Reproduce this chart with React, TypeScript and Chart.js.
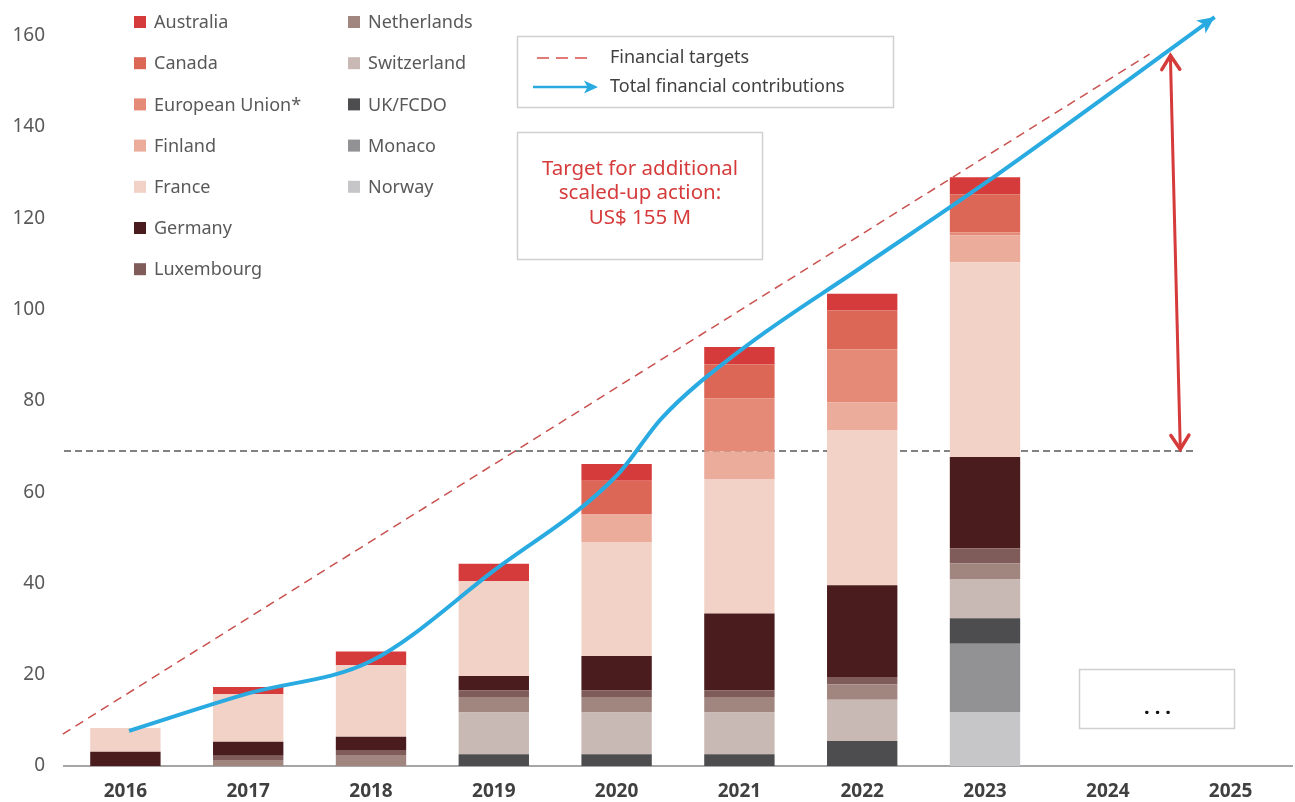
import React, { useEffect, useRef } from "react";
import { Chart, registerables } from "chart.js";

Chart.register(...registerables);

// ---------- DATA ----------
const years = ["2016", "2017", "2018", "2019", "2020", "2021", "2022", "2023", "2024", "2025"];

// stacking order: bottom -> top
const countries = [
  "Norway",
  "Monaco",
  "UK/FCDO",
  "Switzerland",
  "Netherlands",
  "Luxembourg",
  "Germany",
  "France",
  "Finland",
  "European Union*",
  "Canada",
  "Australia",
];

const norway = [0, 0, 0, 0, 0, 0, 0, 11.7, 0, 0];
const monaco = [0, 0, 0, 0, 0, 0, 0, 15.1, 0, 0];
const ukFcdo = [0, 0, 0, 2.6, 2.6, 2.6, 5.5, 5.6, 0, 0];
const switzerland = [0, 0, 0, 9.1, 9.1, 9.1, 9.0, 8.6, 0, 0];
const netherlands = [0, 1.3, 2.4, 3.4, 3.4, 3.4, 3.4, 3.4, 0, 0];
const luxembourg = [0, 0.95, 1.1, 1.5, 1.5, 1.5, 1.6, 3.3, 0, 0];
const germany = [3.1, 3.05, 2.9, 3.1, 7.5, 16.8, 20.1, 20.0, 0, 0];
const france = [5.2, 10.4, 15.7, 20.8, 24.9, 29.5, 33.9, 42.7, 0, 0];
const finland = [0, 0, 0, 0, 6.1, 6.0, 6.2, 5.9, 0, 0];
const europeanUnion = [0, 0, 0, 0, 0, 11.7, 11.6, 0.6, 0, 0];
const canada = [0, 0, 0, 0, 7.4, 7.4, 8.5, 8.4, 0, 0];
const australia = [0, 1.6, 3.0, 3.8, 3.7, 3.8, 3.7, 3.7, 0, 0];

const countryValues = [
  norway, monaco, ukFcdo, switzerland, netherlands, luxembourg,
  germany, france, finland, europeanUnion, canada, australia,
];

const countryColors = [
  "#C6C6C8", // Norway
  "#929295", // Monaco
  "#4D4C4E", // UK/FCDO
  "#C9B9B5", // Switzerland
  "#A1857F", // Netherlands
  "#7F5C59", // Luxembourg
  "#4A1C1E", // Germany
  "#F2D2C6", // France
  "#EBAC9C", // Finland
  "#E48A77", // EU
  "#DD6757", // Canada
  "#D63B3B", // Australia
];

// total financial contributions (x = year index position)
const contribX = [0.03, 1, 2, 3, 4, 4.37, 5, 6, 7, 8.87];
const contribY = [7.7, 15.9, 23.0, 42.8, 63.6, 76.3, 90.9, 109.4, 127.7, 164.1];

// financial targets dashed line
const targetX = [-0.51, 8.34];
const targetY = [7.0, 156.0];

// horizontal reference (current level)
const levelX = [-0.5, 8.7];
const levelY = [69, 69];

// gap double arrow
const gapX = [8.51, 8.59];
const gapY = [155.7, 69.4];

const yTicks = [0, 20, 40, 60, 80, 100, 120, 140, 160];

const targetText = ["Target for additional", "scaled-up action:", "US$ 155 M"];
const legendLineLabels = ["Financial targets", "Total financial contributions"];

const FONT = '"Noto Sans", "Open Sans", sans-serif';
const BLUE = "#29ABE2";
const RED = "#D63B3B";

function drawArrowHead(ctx: CanvasRenderingContext2D, x: number, y: number, dx: number, dy: number, len: number, half: number, color: string) {
  const l = Math.hypot(dx, dy) || 1;
  const ux = dx / l, uy = dy / l;
  const px = -uy, py = ux;
  ctx.save();
  ctx.fillStyle = color;
  ctx.beginPath();
  ctx.moveTo(x, y);
  ctx.lineTo(x - ux * len + px * half, y - uy * len + py * half);
  ctx.lineTo(x - ux * len * 0.75, y - uy * len * 0.75);
  ctx.lineTo(x - ux * len - px * half, y - uy * len - py * half);
  ctx.closePath();
  ctx.fill();
  ctx.restore();
}

function drawChevron(ctx: CanvasRenderingContext2D, x: number, y: number, dx: number, dy: number, len: number, half: number, color: string) {
  const l = Math.hypot(dx, dy) || 1;
  const ux = dx / l, uy = dy / l;
  const px = -uy, py = ux;
  ctx.save();
  ctx.strokeStyle = color;
  ctx.lineWidth = 3.5;
  ctx.lineCap = "round";
  ctx.lineJoin = "miter";
  ctx.beginPath();
  ctx.moveTo(x - ux * len + px * half, y - uy * len + py * half);
  ctx.lineTo(x, y);
  ctx.lineTo(x - ux * len - px * half, y - uy * len - py * half);
  ctx.stroke();
  ctx.restore();
}

const annotationPlugin = {
  id: "annotations",
  afterDatasetsDraw(chart: any) {
    const ctx: CanvasRenderingContext2D = chart.ctx;
    const xs = chart.scales.x;
    const ys = chart.scales.yl;

    // arrowhead on total contributions line
    const meta = chart.getDatasetMeta(chart.data.datasets.length - 1);
    const pts = meta.data;
    const last = pts[pts.length - 1];
    const prev = pts[pts.length - 2];
    let dx = last.x - (last.cp1x ?? prev.x);
    let dy = last.y - (last.cp1y ?? prev.y);
    if (!isFinite(dx) || !isFinite(dy) || (dx === 0 && dy === 0)) {
      dx = last.x - prev.x;
      dy = last.y - prev.y;
    }
    drawArrowHead(ctx, last.x, last.y, dx, dy, 17, 8, BLUE);

    // gap double arrow
    const x1 = xs.getPixelForValue(gapX[0]);
    const y1 = ys.getPixelForValue(gapY[0]);
    const x2 = xs.getPixelForValue(gapX[1]);
    const y2 = ys.getPixelForValue(gapY[1]);
    ctx.save();
    ctx.strokeStyle = RED;
    ctx.lineWidth = 3;
    ctx.beginPath();
    ctx.moveTo(x1, y1 + 2);
    ctx.lineTo(x2, y2 - 2);
    ctx.stroke();
    ctx.restore();
    drawChevron(ctx, x1, y1, x1 - x2, y1 - y2, 14, 9, RED);
    drawChevron(ctx, x2, y2, x2 - x1, y2 - y1, 14, 9, RED);
  },
  afterDraw(chart: any) {
    const ctx: CanvasRenderingContext2D = chart.ctx;
    ctx.save();

    // ---- country legend (two columns, reverse of stacking) ----
    const order = countries.map((_, i) => i).reverse();
    ctx.font = `18px ${FONT}`;
    ctx.textBaseline = "middle";
    ctx.textAlign = "left";
    order.forEach((ci, k) => {
      const col = k < 7 ? 0 : 1;
      const row = k < 7 ? k : k - 7;
      const sx = col === 0 ? 134 : 348;
      const cy = 22 + row * 41.2;
      ctx.fillStyle = countryColors[ci];
      ctx.fillRect(sx, cy - 6, 12, 12);
      ctx.fillStyle = "#595959";
      ctx.fillText(countries[ci], sx + 20, cy + 1);
    });

    // ---- line legend box ----
    ctx.strokeStyle = "#D0D0D0";
    ctx.lineWidth = 1.5;
    ctx.strokeRect(517.5, 36.5, 376, 71);
    ctx.save();
    ctx.strokeStyle = "#D9504C";
    ctx.lineWidth = 1.5;
    ctx.setLineDash([12, 7]);
    ctx.beginPath();
    ctx.moveTo(537, 58);
    ctx.lineTo(593, 58);
    ctx.stroke();
    ctx.restore();
    ctx.save();
    ctx.strokeStyle = BLUE;
    ctx.lineWidth = 2.5;
    ctx.beginPath();
    ctx.moveTo(533, 87);
    ctx.lineTo(588, 87);
    ctx.stroke();
    ctx.restore();
    drawArrowHead(ctx, 598, 87, 1, 0, 14, 6.5, BLUE);
    ctx.fillStyle = "#404040";
    ctx.font = `18px ${FONT}`;
    ctx.fillText(legendLineLabels[0], 610, 58);
    ctx.fillText(legendLineLabels[1], 610, 87);

    // ---- target box ----
    ctx.strokeStyle = "#D0D0D0";
    ctx.lineWidth = 1.5;
    ctx.strokeRect(517.5, 132.5, 245, 127);
    ctx.fillStyle = RED;
    ctx.font = `20.5px ${FONT}`;
    ctx.textAlign = "center";
    targetText.forEach((t, i) => ctx.fillText(t, 640, 169 + i * 24.5));

    // ---- "..." box ----
    ctx.strokeRect(1079.5, 669.5, 155, 59);
    ctx.fillStyle = "#111111";
    ctx.font = `bold 20px ${FONT}`;
    (ctx as any).letterSpacing = "5px";
    ctx.fillText("...", 1160, 708);
    (ctx as any).letterSpacing = "0px";

    ctx.restore();
  },
};

export default function App() {
  const ref = useRef<HTMLCanvasElement | null>(null);

  useEffect(() => {
    if (!ref.current) return;
    const barSets = countries.map((name, i) => ({
      type: "bar" as const,
      label: name,
      data: countryValues[i].map((v, k) => ({ x: k, y: v })),
      backgroundColor: countryColors[i],
      borderWidth: 0,
      stack: "countries",
      xAxisID: "x",
      yAxisID: "y",
      order: 10,
      barPercentage: 0.573,
      categoryPercentage: 1,
    }));

    const chart = new Chart(ref.current, {
      type: "bar",
      data: {
        datasets: [
          {
            type: "line",
            label: "level",
            data: levelX.map((x, i) => ({ x, y: levelY[i] })),
            xAxisID: "x",
            yAxisID: "yl",
            borderColor: "#5A5A5A",
            borderWidth: 1.5,
            borderDash: [7, 4],
            pointRadius: 0,
            fill: false,
            order: 20,
          },
          ...barSets,
          {
            type: "line",
            label: legendLineLabels[0],
            data: targetX.map((x, i) => ({ x, y: targetY[i] })),
            xAxisID: "x",
            yAxisID: "yl",
            borderColor: "#C9514F",
            borderWidth: 1.5,
            borderDash: [9, 6],
            pointRadius: 0,
            fill: false,
            clip: false,
            order: 2,
          },
          {
            type: "line",
            label: legendLineLabels[1],
            data: contribX.map((x, i) => ({ x, y: contribY[i] })),
            xAxisID: "x",
            yAxisID: "yl",
            borderColor: BLUE,
            borderWidth: 4,
            pointRadius: 0,
            fill: false,
            cubicInterpolationMode: "monotone",
            clip: false,
            order: 1,
          },
        ] as any,
      },
      options: {
        responsive: false,
        animation: false,
        layout: { padding: { left: 0, right: 3, top: 13, bottom: 0 } },
        plugins: { legend: { display: false }, tooltip: { enabled: false } },
        scales: {
          x: {
            type: "linear",
            stacked: true,
            offset: false,
            min: -0.5,
            max: 9.5,
            grid: { display: false, drawTicks: false },
            border: { display: true, color: "#A6A6A6", width: 2 },
            ticks: {
              color: "#404040",
              font: { family: FONT, size: 19, weight: "bold" },
              padding: 14,
              maxRotation: 0,
              autoSkip: false,
              callback: (v: any) => years[Math.round(Number(v))] ?? "",
            },
            afterBuildTicks: (axis: any) => {
              axis.ticks = years.map((_, i) => ({ value: i }));
            },
            afterFit: (s: any) => {
              s.height = 36;
              s.paddingLeft = 0;
              s.paddingRight = 0;
            },
          },
          y: {
            type: "linear",
            stacked: true,
            min: 0,
            max: 165,
            grid: { display: false, drawTicks: false },
            border: { display: false },
            ticks: {
              color: "#595959",
              font: { family: FONT, size: 19 },
              padding: 19,
            },
            afterBuildTicks: (axis: any) => {
              axis.ticks = yTicks.map((v) => ({ value: v }));
            },
            afterFit: (s: any) => {
              s.width = 64;
              s.paddingTop = 0;
              s.paddingBottom = 0;
            },
          },
          yl: {
            type: "linear",
            display: false,
            min: 0,
            max: 165,
          },
        },
      } as any,
      plugins: [annotationPlugin],
    });
    return () => chart.destroy();
  }, []);

  return (
    <div style={{ position: "absolute", left: 0, top: 0, width: 1295, height: 802, background: "#fff" }}>
      <canvas ref={ref} width={1295} height={802} style={{ display: "block" }} />
    </div>
  );
}
